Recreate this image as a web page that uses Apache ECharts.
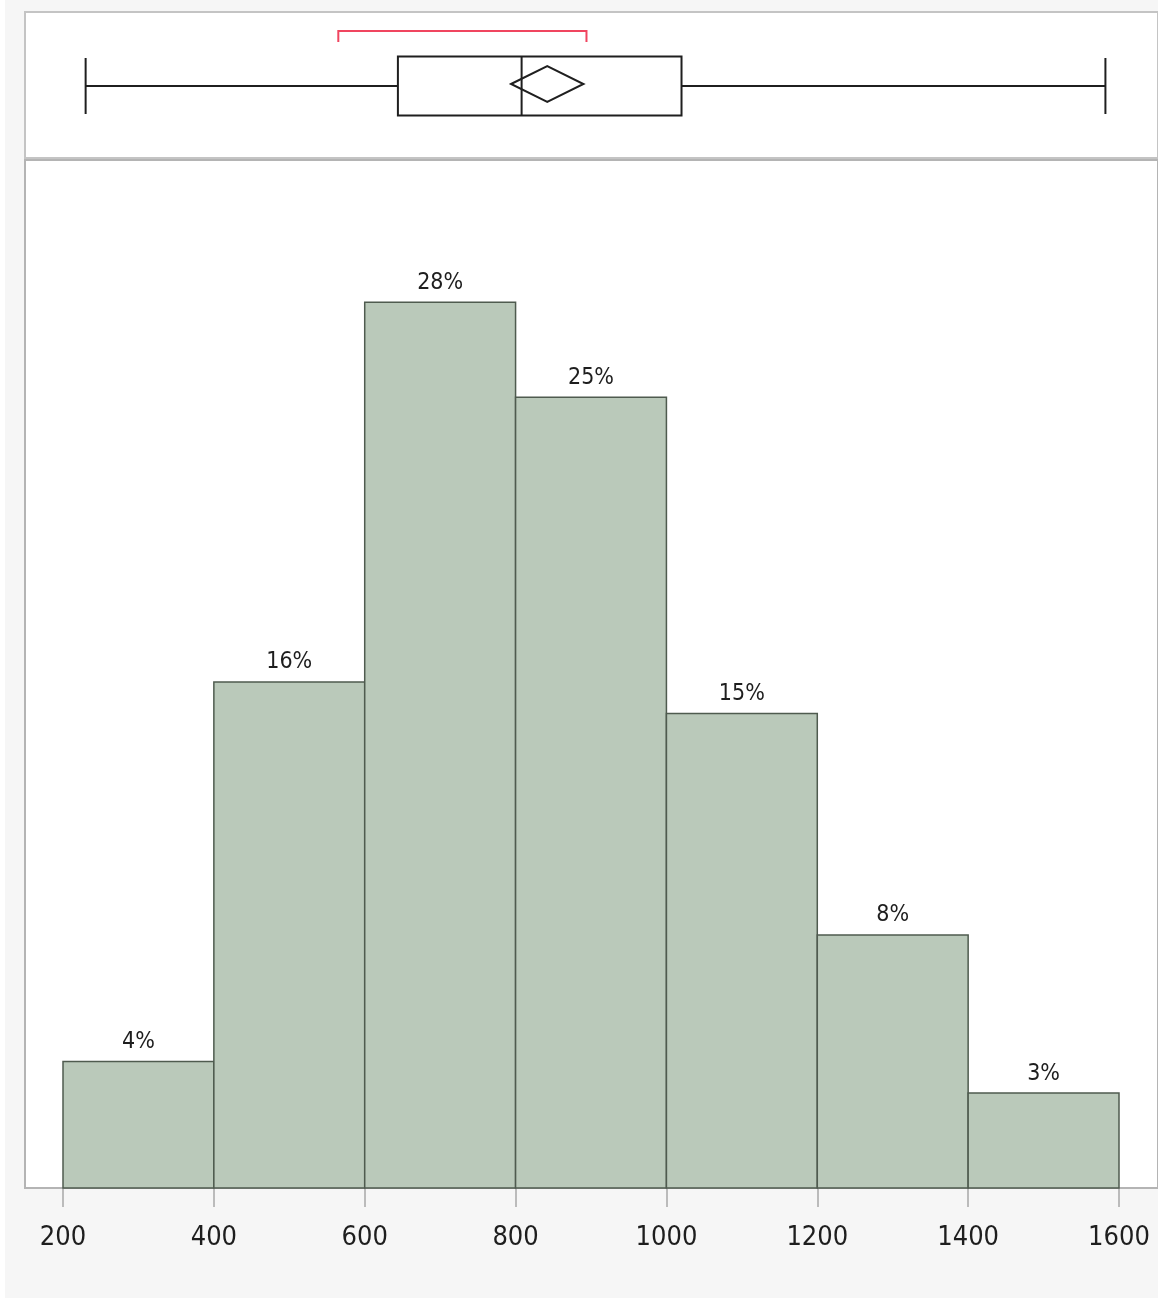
<!DOCTYPE html>
<html>
<head>
<meta charset="utf-8">
<title>Distribution</title>
<script src="https://cdn.jsdelivr.net/npm/echarts@6/dist/echarts.min.js"></script>
<style>
  html, body { margin: 0; padding: 0; background: #ffffff; }
  #chart { width: 1158px; height: 1301px; }
</style>
</head>
<body>
<div id="chart"></div>
<script>
// Histogram bins (edges) and the share of observations in each bin, in percent
const binEdges = [200, 400, 600, 800, 1000, 1200, 1400, 1600];
const binPercents = [4, 16, 28, 25, 15, 8, 3];

// Axis tick labels
const xTickValues = [200, 400, 600, 800, 1000, 1200, 1400, 1600];

// Outlier box plot summary
const whiskerRange = [230, 1582];
const quartiles = [644, 808, 1020];      // Q1, median, Q3
const meanDiamond = [794, 842, 890];     // lower CI, mean, upper CI
const shortestHalf = [565, 894];

const FONT = "'Liberation Sans Narrow', 'DejaVu Sans Condensed', 'DejaVu Sans', sans-serif";

const histData = binPercents.map((p, i) => [binEdges[i], binEdges[i + 1], p]);
const boxData = [[
  whiskerRange[0], quartiles[0], quartiles[1], quartiles[2], whiskerRange[1],
  meanDiamond[0], meanDiamond[1], meanDiamond[2], shortestHalf[0], shortestHalf[1]
]];

const chart = echarts.init(document.getElementById('chart'), null, { renderer: 'canvas' });

function renderBins(params, api) {
  const top = api.coord([api.value(0), api.value(2)]);
  const base = api.coord([api.value(1), 0]);
  const pct = api.value(2);
  return {
    type: 'group',
    children: [
      {
        type: 'rect',
        shape: { x: top[0], y: top[1], width: base[0] - top[0], height: base[1] - top[1] },
        style: { fill: '#bac9ba', stroke: '#4f5b4f', lineWidth: 1.5 }
      },
      {
        type: 'text',
        style: {
          text: pct + '%',
          x: (top[0] + base[0]) / 2,
          y: top[1] - 8,
          align: 'center',
          verticalAlign: 'bottom',
          font: '23px ' + FONT,
          fill: '#1e1e1e'
        }
      }
    ]
  };
}

function renderBox(params, api) {
  const cy = api.coord([0, 0.5])[1] + 1;
  const X = (i) => api.coord([api.value(i), 0.5])[0];
  const xMin = X(0), q1 = X(1), med = X(2), q3 = X(3), xMax = X(4);
  const ciLo = X(5), mean = X(6), ciHi = X(7), shLo = X(8), shHi = X(9);
  const ink = { stroke: '#1f1f1f', lineWidth: 2, fill: null };
  const line = (x1, y1, x2, y2, style) => ({ type: 'line', shape: { x1, y1, x2, y2 }, style: style || ink });
  const red = { stroke: '#f0455f', lineWidth: 2, fill: null };
  return {
    type: 'group',
    children: [
      line(xMin, cy, q1, cy),
      line(q3, cy, xMax, cy),
      line(xMin, cy - 28, xMin, cy + 28),
      line(xMax, cy - 28, xMax, cy + 28),
      { type: 'rect', shape: { x: q1, y: cy - 29.5, width: q3 - q1, height: 59 }, style: ink },
      line(med, cy - 29.5, med, cy + 29.5),
      {
        type: 'polygon',
        shape: { points: [[ciLo, cy - 2], [mean, cy - 20], [ciHi, cy - 2], [mean, cy + 16]] },
        style: ink
      },
      {
        type: 'polyline',
        shape: { points: [[shLo, cy - 44], [shLo, cy - 55], [shHi, cy - 55], [shHi, cy - 44]] },
        style: red
      }
    ]
  };
}

const option = {
  animation: false,
  backgroundColor: '#ffffff',
  graphic: [
    { type: 'rect', z: -10, shape: { x: 5, y: 0, width: 1153, height: 1298 }, style: { fill: '#f6f6f6' } },
    { type: 'rect', z: -9, shape: { x: 25, y: 12, width: 1133, height: 146 },
      style: { fill: '#ffffff', stroke: '#c4c4c4', lineWidth: 2 } },
    { type: 'rect', z: -9, shape: { x: 25, y: 160, width: 1133, height: 1028 },
      style: { fill: '#ffffff', stroke: '#b4b4b4', lineWidth: 2 } }
  ],
  grid: [
    { left: 63, width: 1056, top: 12, height: 146 },
    { left: 63, width: 1056, top: 160, height: 1028 }
  ],
  xAxis: [
    { gridIndex: 0, type: 'value', min: 200, max: 1600, show: false },
    {
      gridIndex: 1, type: 'value', min: 200, max: 1600, interval: 200,
      axisLine: { show: false },
      splitLine: { show: false },
      axisTick: { show: true, length: 19, lineStyle: { color: '#a8a8a8', width: 1.5 } },
      axisLabel: {
        margin: 36,
        color: '#1e1e1e',
        fontSize: 27,
        fontFamily: FONT,
        customValues: xTickValues,
        formatter: (v) => String(v)
      }
    }
  ],
  yAxis: [
    { gridIndex: 0, type: 'value', min: 0, max: 1, show: false },
    { gridIndex: 1, type: 'value', min: 0, max: 32.5, show: false }
  ],
  series: [
    {
      type: 'custom',
      xAxisIndex: 0, yAxisIndex: 0,
      renderItem: renderBox,
      data: boxData,
      silent: true
    },
    {
      type: 'custom',
      xAxisIndex: 1, yAxisIndex: 1,
      renderItem: renderBins,
      encode: { x: [0, 1], y: 2 },
      data: histData,
      silent: true
    }
  ]
};

chart.setOption(option);
</script>
</body>
</html>
